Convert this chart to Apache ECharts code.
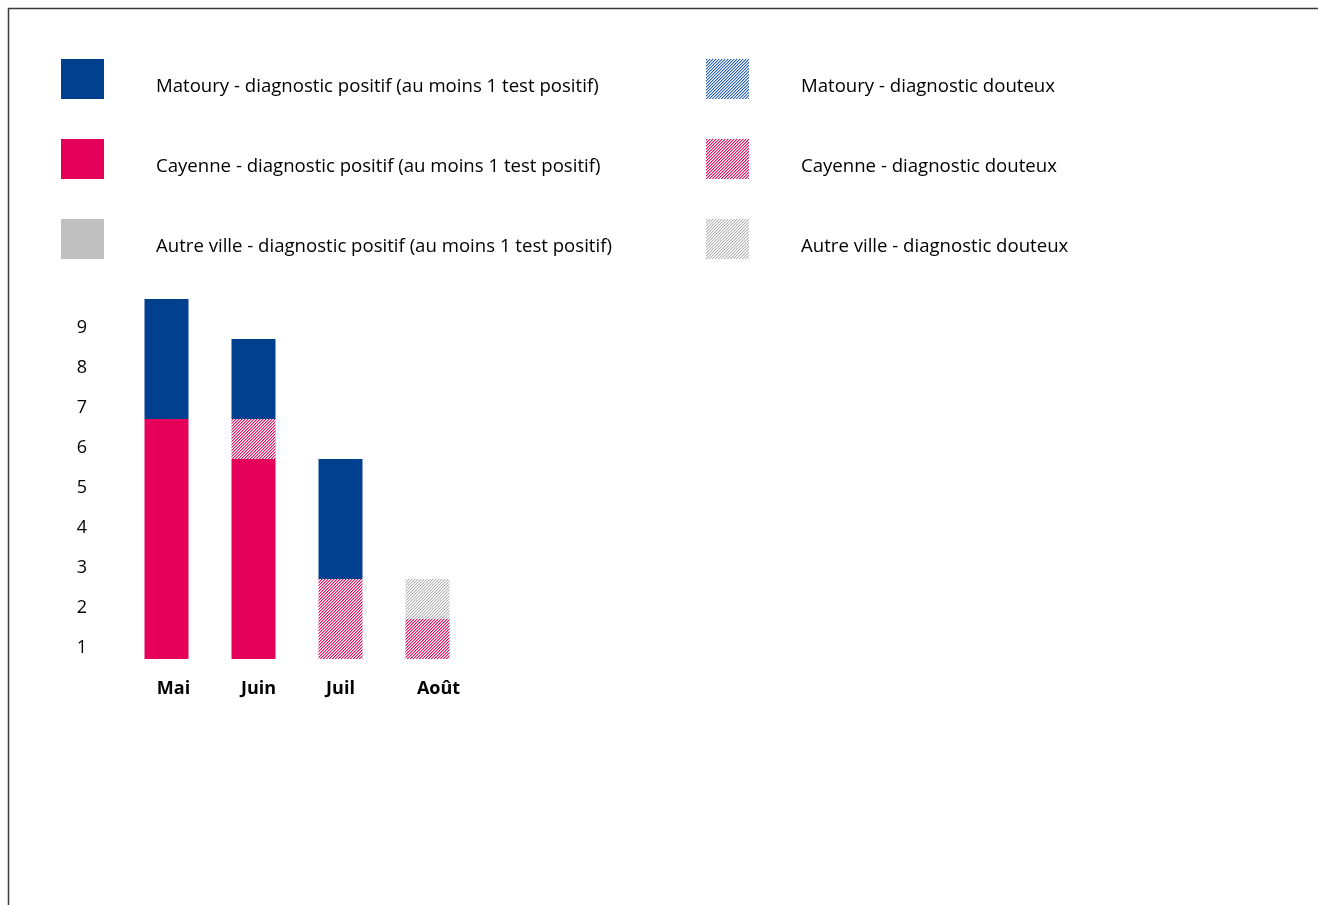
<!DOCTYPE html>
<html><head><meta charset="utf-8">
<script src="https://cdn.jsdelivr.net/npm/echarts@6/dist/echarts.min.js"></script>
<style>html,body{margin:0;padding:0;background:#fff}#c{width:1318px;height:905px}</style>
</head><body><div id="c"></div>
<script>
var categories = ['Mai', 'Juin', 'Juil', 'Août'];
var yTicks = [1, 2, 3, 4, 5, 6, 7, 8, 9];
var matouryPos = [3, 2, 3, 0];
var matouryDout = [0, 0, 0, 0];
var cayennePos = [6, 5, 0, 0];
var cayenneDout = [0, 1, 2, 1];
var autrePos = [0, 0, 0, 0];
var autreDout = [0, 0, 0, 1];
var names = {
  mp: 'Matoury - diagnostic positif (au moins 1 test positif)',
  cp: 'Cayenne - diagnostic positif (au moins 1 test positif)',
  ap: 'Autre ville - diagnostic positif (au moins 1 test positif)',
  md: 'Matoury - diagnostic douteux',
  cd: 'Cayenne - diagnostic douteux',
  ad: 'Autre ville - diagnostic douteux'
};
var BLUE = '#00408F', PINK = '#E5005A', GRAY = '#C0C0C0';

function hatch(color, light) {
  var n = 6;
  var c = document.createElement('canvas');
  c.width = n; c.height = n;
  var ctx = c.getContext('2d');
  ctx.fillStyle = '#ffffff'; ctx.fillRect(0, 0, n, n);
  for (var x = 0; x < n; x++) for (var y = 0; y < n; y++) {
    var k = (x + y) % 3;
    if (k === 0) { ctx.fillStyle = color; ctx.fillRect(x, y, 1, 1); }
    else if (k === 1) { ctx.fillStyle = light; ctx.fillRect(x, y, 1, 1); }
  }
  return { image: c, repeat: 'repeat' };
}

var chart = echarts.init(document.getElementById('c'));
var font = '"Open Sans", Lato, sans-serif';
function bar(name, data, color) {
  return { name: name, type: 'bar', stack: 's', data: data, barWidth: 44,
    itemStyle: { color: color }, emphasis: { disabled: true } };
}
var legendCommon = {
  orient: 'vertical', top: 59, padding: 0, itemWidth: 43, itemHeight: 40, itemGap: 40, icon: 'rect',
  selectedMode: false, formatter: '\n{name}',
  textStyle: { fontFamily: font, fontSize: 18.6, lineHeight: 15, color: '#000', padding: [0, 0, 0, 47] }
};
// horizontal nudges of the month labels (style only)
var labelNudge = [14, 10, 0, 22];
var rich = {};
labelNudge.forEach(function (p, i) {
  rich['c' + i] = { fontFamily: font, fontSize: 18, fontWeight: 'bold', color: '#000', padding: [0, 0, 0, p] };
});
chart.setOption({
  animation: false,
  textStyle: { fontFamily: font },
  legend: [
    Object.assign({ left: 61, data: [names.mp, names.cp, names.ap] }, legendCommon),
    Object.assign({ left: 706, data: [names.md, names.cd, names.ad] }, legendCommon)
  ],
  grid: { left: 123, width: 348, top: 259, bottom: 246 },
  xAxis: {
    type: 'category', data: categories,
    axisLine: { show: false }, axisTick: { show: false },
    axisLabel: {
      interval: 0, hideOverlap: false,
      fontFamily: font, fontSize: 18, fontWeight: 'bold', color: '#000', margin: 21,
      formatter: function (v, i) { return '{c' + i + '|' + v + '}'; }, rich: rich
    }
  },
  yAxis: {
    type: 'value', min: 0, max: 10, interval: 1,
    splitLine: { show: false }, axisLine: { show: false }, axisTick: { show: false },
    axisLabel: {
      fontFamily: font, fontSize: 18, color: '#000', margin: 36,
      showMinLabel: false, showMaxLabel: false, hideOverlap: false,
      verticalAlign: 'top', lineHeight: 58,
      formatter: function (v) { return yTicks.indexOf(v) >= 0 ? String(v) : ''; }
    }
  },
  series: [
    bar(names.cp, cayennePos, PINK),
    bar(names.cd, cayenneDout, hatch('#E2105F', '#F390B5')),
    bar(names.ap, autrePos, GRAY),
    bar(names.ad, autreDout, hatch('#B4B4B4', '#E2E2E2')),
    bar(names.mp, matouryPos, BLUE),
    bar(names.md, matouryDout, hatch('#2A62B8', '#9DBBE6'))
  ],
  graphic: [{
    type: 'polyline', silent: true,
    shape: { points: [[8.5, 905], [8.5, 8.5], [1318, 8.5]] },
    style: { stroke: '#3a3a3a', lineWidth: 1.5, fill: null }
  }]
});
</script></body></html>
